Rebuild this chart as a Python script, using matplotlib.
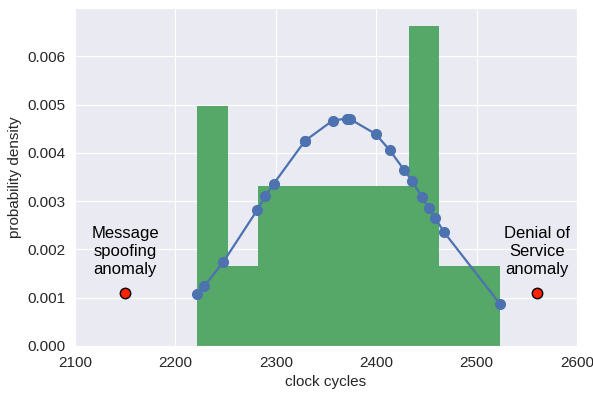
import matplotlib
matplotlib.use("Agg")
import matplotlib.pyplot as plt
import seaborn as sns

# measured clock cycles of normal messages (sorted), with fitted density at each
samples = [2221.8, 2228.8, 2247.7, 2281.6, 2289.5, 2297.9, 2329.1, 2329.1,
           2356.7, 2370.6, 2373.9, 2399.5, 2413.7, 2428.0, 2435.7, 2445.3,
           2452.6, 2458.9, 2467.5, 2523.3]
pdf_vals = [0.00107, 0.00124, 0.00174, 0.00282, 0.00310, 0.00336, 0.00425,
            0.00425, 0.00467, 0.00471, 0.00470, 0.00439, 0.00405, 0.00364,
            0.00342, 0.00309, 0.00286, 0.00265, 0.00236, 0.00087]

anomaly_x = [2150, 2560]
anomaly_y = [0.0011, 0.0011]
anomaly_labels = ["Message\nspoofing\nanomaly", "Denial of\nService\nanomaly"]

sns.set_style("darkgrid")
plt.rcParams['font.family'] = ['Liberation Sans', 'DejaVu Sans']

fig = plt.figure(figsize=(5.93, 3.93), dpi=100)
ax = fig.add_axes([0.1265, 0.1196, 0.8465, 0.86])

ax.hist(samples, bins=10, density=True, color='#55A868', linewidth=0)
ax.plot(samples, pdf_vals, '-o', color='#4C72B0', linewidth=1.6, markersize=7)

for x, y, label in zip(anomaly_x, anomaly_y, anomaly_labels):
    ax.plot(x, y, 'o', color='#FF2200', markeredgecolor='black',
            markeredgewidth=1.0, markersize=7.5)
    ax.text(x, y + 0.00033, label, ha='center', va='bottom', fontsize=12,
            linespacing=1.25, color='black')

ax.set_xlim(2100, 2600)
ax.set_ylim(0, 0.0070)
ax.set_yticks([0, 0.001, 0.002, 0.003, 0.004, 0.005, 0.006])
ax.set_yticklabels([f"{v:.3f}" for v in ax.get_yticks()])
ax.tick_params(labelsize=11)
ax.set_xlabel("clock cycles", fontsize=11)
ax.set_ylabel("probability density", fontsize=11)

fig.savefig("out.png", dpi=100)
